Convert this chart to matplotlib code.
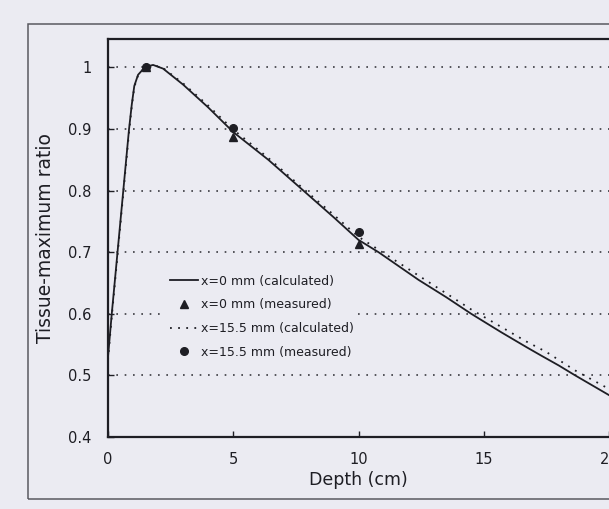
import numpy as np
import matplotlib
matplotlib.use("Agg")
import matplotlib.pyplot as plt
from matplotlib.patches import Rectangle

# data
depth_calc_0 = [0.0, 0.15, 0.38, 0.61, 0.84, 0.95, 1.05, 1.2, 1.4, 1.6, 1.8, 2.2, 3.0, 4.0,
                5.0, 6.4, 7.8, 9.0, 10.0, 10.8, 12.4, 13.5, 14.5, 15.7, 16.7, 17.3, 18.0,
                18.65, 20.0]
tmr_calc_0 = [0.53, 0.60, 0.70, 0.80, 0.90, 0.94, 0.97, 0.988, 0.997, 1.002, 1.004, 0.998,
              0.972, 0.935, 0.895, 0.85, 0.80, 0.757, 0.72, 0.70, 0.655, 0.627, 0.60, 0.57,
              0.546, 0.532, 0.516, 0.50, 0.468]

depth_calc_155 = [0.0, 0.15, 0.38, 0.61, 0.84, 0.95, 1.05, 1.2, 1.4, 1.6, 1.8, 2.2, 3.0, 4.0,
                  5.0, 6.4, 7.8, 9.0, 10.0, 12.4, 14.5, 16.7, 17.5, 18.65, 20.0]
tmr_calc_155 = [0.525, 0.595, 0.695, 0.795, 0.895, 0.937, 0.968, 0.987, 0.997, 1.002, 1.004,
                0.999, 0.974, 0.938, 0.899, 0.853, 0.803, 0.761, 0.725, 0.662, 0.607, 0.555,
                0.538, 0.508, 0.478]

depth_meas_0 = [1.5, 5.0, 10.0]
tmr_meas_0 = [1.0, 0.887, 0.714]
depth_meas_155 = [1.5, 5.0, 10.0]
tmr_meas_155 = [1.0, 0.902, 0.732]

x_ticks = [0, 5, 10, 15, 20]
y_ticks = [0.4, 0.5, 0.6, 0.7, 0.8, 0.9, 1.0]
y_tick_labels = ["0.4", "0.5", "0.6", "0.7", "0.8", "0.9", "1"]

bg = "#ebebf2"
ink = "#1e1e24"

fig = plt.figure(figsize=(6.09, 5.09), dpi=100, facecolor=bg)
ax = fig.add_axes([108 / 609, 72 / 509, 501 / 609, 398.5 / 509])
ax.set_facecolor(bg)

# outer frame of the scanned figure
fig.patches.append(Rectangle((28 / 609, 10 / 509), 1.2, 475 / 509,
                             transform=fig.transFigure, fill=False,
                             edgecolor="#5a5a60", lw=1.1))

ax.plot(depth_calc_0, tmr_calc_0, color=ink, lw=1.3, label="x=0 mm (calculated)", zorder=3)
ax.plot(depth_meas_0, tmr_meas_0, ls="none", marker="^", ms=6, color=ink,
        label="x=0 mm (measured)", zorder=4)
ax.plot(depth_calc_155, tmr_calc_155, color=ink, lw=1.3, ls=(0, (1, 3.5)),
        label="x=15.5 mm (calculated)", zorder=3)
ax.plot(depth_meas_155, tmr_meas_155, ls="none", marker="o", ms=5.5, color=ink,
        label="x=15.5 mm (measured)", zorder=4)

ax.set_xlim(0, 501 / 25.4)
ax.set_ylim(0.4, 0.4 + 398.5 / 616)
ax.set_xticks(x_ticks)
ax.set_yticks(y_ticks)
ax.set_yticklabels(y_tick_labels)

for y in y_ticks[1:]:
    ax.axhline(y, color="#3a3a40", lw=1.2, ls=(0, (1, 4)), zorder=1)

ax.tick_params(direction="in", length=4, width=1, colors=ink, labelsize=10.5)
ax.tick_params(axis="y", pad=12)
ax.tick_params(axis="x", pad=11)
for side in ["left", "bottom", "top"]:
    ax.spines[side].set_linewidth(1.6)
    ax.spines[side].set_color(ink)
ax.spines["right"].set_visible(False)

ax.set_xlabel("Depth (cm)", fontsize=12.5, color=ink, labelpad=3)
ax.set_ylabel("Tissue-maximum ratio", fontsize=13.5, color=ink, labelpad=9)

leg = ax.legend(loc="center left", bbox_to_anchor=(0.104, 0.302), fontsize=9,
                frameon=True, facecolor=bg, edgecolor="none", framealpha=1,
                handlelength=2.2, handletextpad=0.25, labelspacing=0.85,
                borderpad=0.3, numpoints=1)
for t in leg.get_texts():
    t.set_color(ink)

fig.savefig("out.png", dpi=100, facecolor=bg)
